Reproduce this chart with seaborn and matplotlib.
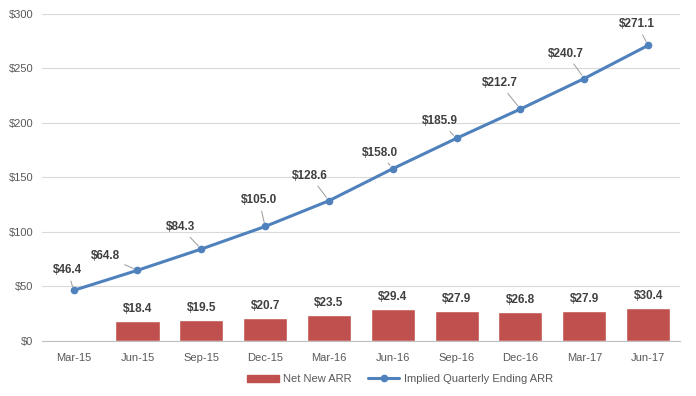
import numpy as np
import matplotlib.pyplot as plt
import seaborn as sns
import pandas as pd
from matplotlib.lines import Line2D
from matplotlib.patches import Patch

quarters = ["Mar-15", "Jun-15", "Sep-15", "Dec-15", "Mar-16", "Jun-16",
            "Sep-16", "Dec-16", "Mar-17", "Jun-17"]
net_new_arr = [np.nan, 18.4, 19.5, 20.7, 23.5, 29.4, 27.9, 26.8, 27.9, 30.4]
ending_arr = [46.4, 64.8, 84.3, 105.0, 128.6, 158.0, 185.9, 212.7, 240.7, 271.1]

# label offsets in pixels (dx, dy) for line labels
label_offsets = [(-6, 20), (-32, 14), (-21, 22), (-6, 26), (-19, 25),
                 (-13, 16), (-17, 17), (-21, 26), (-18, 25), (-11, 21)]

df = pd.DataFrame({"quarter": quarters, "net": net_new_arr, "ending": ending_arr})

sns.set_style("white")
plt.rcParams['font.family'] = ['Liberation Sans', 'DejaVu Sans']

red = "#C0504D"
blue = "#4F81BD"
grey_txt = "#595959"

fig = plt.figure(figsize=(6.96, 3.96), dpi=100)
ax = fig.add_axes([0.060, 0.139, 0.917, 0.826])

sns.barplot(data=df, x="quarter", y="net", color=red, width=0.69,
            saturation=1, ax=ax, zorder=2)
x_pos = np.arange(len(quarters))
ax.plot(x_pos, ending_arr, color=blue, lw=2.2, marker="o", ms=4.5, zorder=3)

# bar labels
for i, v in enumerate(net_new_arr):
    if not np.isnan(v):
        ax.annotate(f"${v:.1f}", (i, v), xytext=(0, 6), textcoords="offset pixels",
                    ha="center", va="bottom", fontsize=8.5, fontweight="bold",
                    color="#404040")

# line labels with leader lines
for i, v in enumerate(ending_arr):
    dx, dy = label_offsets[i]
    ax.annotate(f"${v:.1f}", (i, v), xytext=(dx, dy), textcoords="offset pixels",
                ha="center", va="center", fontsize=8.5, fontweight="bold",
                color="#404040",
                arrowprops=dict(arrowstyle="-", color="#999999", lw=0.7,
                                shrinkA=1, shrinkB=3))

ax.set_ylim(0, 300)
ax.set_yticks(range(0, 301, 50))
ax.set_yticklabels([f"${t}" for t in range(0, 301, 50)])
ax.set_xlim(-0.5, len(quarters) - 0.5)
ax.yaxis.grid(True, color="#D9D9D9", lw=0.8, zorder=0)
ax.set_axisbelow(True)
ax.set_xlabel("")
ax.set_ylabel("")

for s in ["top", "right", "left"]:
    ax.spines[s].set_visible(False)
ax.spines["bottom"].set_color("#BFBFBF")

ax.set_xticks(x_pos)
ax.set_xticklabels(quarters)
ax.set_xticks(np.arange(-0.5, len(quarters), 1.0), minor=True)
ax.tick_params(axis="x", which="major", length=0, pad=9, labelsize=8, labelcolor=grey_txt)
ax.tick_params(axis="x", which="minor", length=5, color="#BFBFBF", direction="out")
ax.tick_params(axis="y", length=0, labelsize=8, labelcolor=grey_txt, pad=6)

handles = [Patch(color=red, label="Net New ARR"),
           Line2D([0], [0], color=blue, lw=2.2, marker="o", ms=4.5,
                  label="Implied Quarterly Ending ARR")]
fig.legend(handles=handles, loc="center", bbox_to_anchor=(0.575, 0.043), ncol=2,
           frameon=False, fontsize=8, labelcolor=grey_txt, handlelength=2.8,
           handleheight=0.6, columnspacing=1.5, handletextpad=0.4)

fig.savefig("out.png", dpi=100)
